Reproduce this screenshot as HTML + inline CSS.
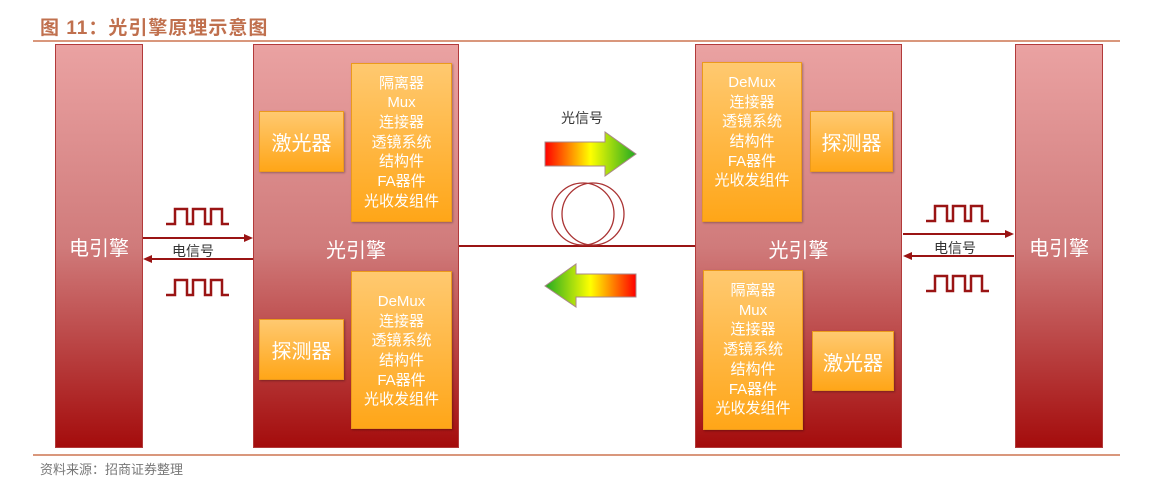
<!DOCTYPE html>
<html><head><meta charset="utf-8"><style>
body{margin:0;width:1162px;height:496px;background:#fff;position:relative;overflow:hidden;font-family:"Liberation Sans","Noto Sans CJK SC",sans-serif}
.a{position:absolute}
.big{background:linear-gradient(#eaa2a2,#d07b7b 50%,#a40c0c);border:1px solid #b23a3a;box-sizing:border-box;color:#fff;display:flex;align-items:center;justify-content:center;font-size:20px}
.ob{background:linear-gradient(#ffc970,#ffa618);border:1px solid #ec9a1c;box-sizing:border-box;color:#fff;display:flex;align-items:center;justify-content:center;text-align:center;box-shadow:1px 1px 2px rgba(0,0,0,.3)}
.lst{font-size:15px;line-height:19.7px}
.sm{font-size:20px}
</style></head><body>
<div class="a" style="left:40px;top:13px;font-size:19px;font-weight:bold;color:#c0704e;letter-spacing:1px">图 11：光引擎原理示意图</div>
<div class="a" style="left:33px;top:40px;width:1087px;height:2px;background:#d9977c"></div>
<div class="a" style="left:33px;top:454px;width:1087px;height:2px;background:#d9977c"></div>
<div class="a" style="left:40px;top:459px;font-size:13px;color:#777">资料来源：招商证券整理</div>

<div class="a big" style="left:55px;top:44px;width:88px;height:404px">电引擎</div>
<div class="a big" style="left:253px;top:44px;width:206px;height:404px;padding-top:4px">光引擎</div>
<div class="a big" style="left:695px;top:44px;width:207px;height:404px;padding-top:4px">光引擎</div>
<div class="a big" style="left:1015px;top:44px;width:88px;height:404px">电引擎</div>

<div class="a ob sm" style="left:259px;top:111px;width:85px;height:61px">激光器</div>
<div class="a ob lst" style="left:351px;top:63px;width:101px;height:159px"><div>隔离器<br>Mux<br>连接器<br>透镜系统<br>结构件<br>FA器件<br>光收发组件</div></div>
<div class="a ob sm" style="left:259px;top:319px;width:85px;height:61px">探测器</div>
<div class="a ob lst" style="left:351px;top:271px;width:101px;height:158px;padding-top:2px"><div>DeMux<br>连接器<br>透镜系统<br>结构件<br>FA器件<br>光收发组件</div></div>

<div class="a ob lst" style="left:702px;top:62px;width:100px;height:160px;padding-bottom:20px"><div>DeMux<br>连接器<br>透镜系统<br>结构件<br>FA器件<br>光收发组件</div></div>
<div class="a ob sm" style="left:810px;top:111px;width:83px;height:61px">探测器</div>
<div class="a ob lst" style="left:703px;top:270px;width:100px;height:160px"><div>隔离器<br>Mux<br>连接器<br>透镜系统<br>结构件<br>FA器件<br>光收发组件</div></div>
<div class="a ob sm" style="left:812px;top:331px;width:82px;height:60px">激光器</div>

<svg class="a" style="left:0;top:0" width="1162" height="496">
<defs>
<linearGradient id="gr" x1="0" x2="1"><stop offset="0" stop-color="#f00"/><stop offset=".5" stop-color="#ff0"/><stop offset="1" stop-color="#2a2"/></linearGradient>
<linearGradient id="gl" x1="0" x2="1"><stop offset="0" stop-color="#2a2"/><stop offset=".5" stop-color="#ff0"/><stop offset="1" stop-color="#f00"/></linearGradient>
</defs>
<g stroke="#9a1414" stroke-width="2" fill="none">
<line x1="143" y1="238" x2="248" y2="238"/><line x1="148" y1="259" x2="253" y2="259"/>
<line x1="903" y1="234" x2="1009" y2="234"/><line x1="908" y1="256" x2="1014" y2="256"/>
<line x1="459" y1="246" x2="695" y2="246"/>
<path d="M166 224h9v-15h12v15h6v-15h12v15h6v-15h11v15h7" stroke-width="2.5"/>
<path d="M166 295h9v-15h12v15h6v-15h12v15h6v-15h11v15h7" stroke-width="2.5"/>
<path d="M926 221h9v-15h12v15h6v-15h12v15h6v-15h11v15h7" stroke-width="2.5"/>
<path d="M926 291h9v-15h12v15h6v-15h12v15h6v-15h11v15h7" stroke-width="2.5"/>
<circle cx="583" cy="214" r="31" stroke="#a33" stroke-width="1.3"/>
<circle cx="593" cy="214" r="31" stroke="#a33" stroke-width="1.3"/>
</g>
<g fill="#9a1414">
<polygon points="253,238 244,234 244,242"/><polygon points="143,259 152,255 152,263"/>
<polygon points="1014,234 1005,230 1005,238"/><polygon points="903,256 912,252 912,260"/>
</g>
<polygon points="545,142 605,142 605,132 636,154 605,176 605,166 545,166" fill="url(#gr)" stroke="#a88" stroke-width="1"/>
<polygon points="636,274 576,274 576,264 545,286 576,307 576,297 636,297" fill="url(#gl)" stroke="#a88" stroke-width="1"/>
</svg>
<div class="a" style="left:561px;top:108px;font-size:14px;color:#333">光信号</div>
<div class="a" style="left:172px;top:241px;font-size:14px;color:#333">电信号</div>
<div class="a" style="left:934px;top:238px;font-size:14px;color:#333">电信号</div>
</body></html>
